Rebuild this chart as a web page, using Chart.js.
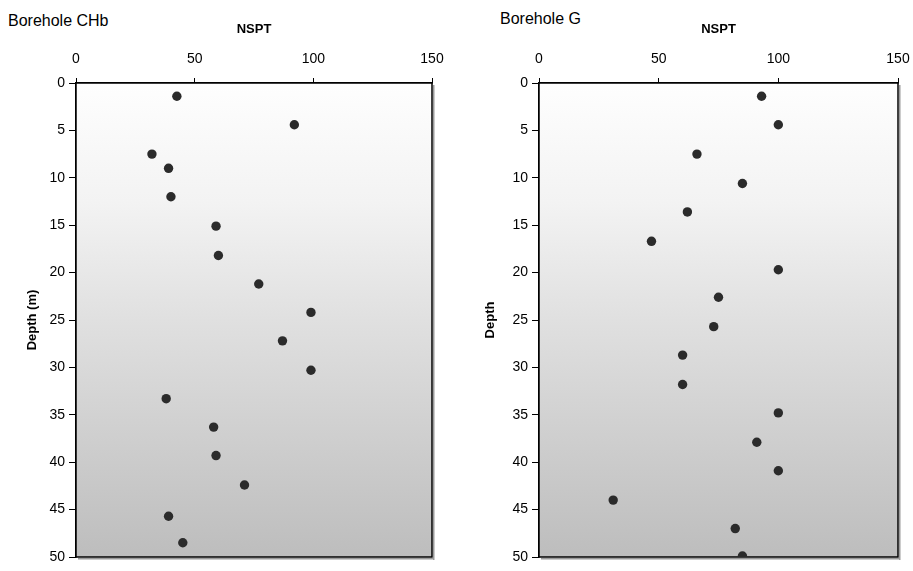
<!DOCTYPE html>
<html>
<head>
<meta charset="utf-8">
<script src="https://cdn.jsdelivr.net/npm/chart.js@4"></script>
<style>
  html, body { margin: 0; padding: 0; background: #ffffff; }
  body { width: 913px; height: 571px; position: relative; overflow: hidden; font-family: "Liberation Sans", Arial, sans-serif; }
  canvas { position: absolute; top: 0; }
  .ttl { position: absolute; font-size: 16px; color: #000; white-space: nowrap; }
</style>
</head>
<body>
<div class="ttl" id="t1" style="left:8px; top:12px;">Borehole CHb</div>
<div class="ttl" id="t2" style="left:500px; top:10px;">Borehole G</div>
<canvas id="c1" width="456" height="571" style="left:0px;"></canvas>
<canvas id="c2" width="457" height="571" style="left:456px;"></canvas>
<script>
// ---- data ----
const nsptTicks = [0, 50, 100, 150];
const depthTicks = [0, 5, 10, 15, 20, 25, 30, 35, 40, 45, 50];

const chbDepth = [1.4, 4.4, 7.5, 9.0, 12.0, 15.1, 18.2, 21.2, 24.2, 27.2, 30.3, 33.3, 36.3, 39.3, 42.4, 45.7, 48.5];
const chbNspt  = [42.5, 92, 32, 39, 40, 59, 60, 77, 99, 87, 99, 38, 58, 59, 71, 39, 45];

const gDepth = [1.4, 4.4, 7.5, 10.6, 13.6, 16.7, 19.7, 22.6, 25.7, 28.7, 31.8, 34.8, 37.9, 40.9, 44.0, 47.0, 49.9];
const gNspt  = [93, 100, 66, 85, 62, 47, 100, 75, 73, 60, 60, 100, 91, 100, 31, 82, 85];

const FONT = "'Liberation Sans', Arial, sans-serif";

const bgPlugin = {
  id: 'bg',
  beforeDatasetsDraw(chart) {
    const a = chart.chartArea, ctx = chart.ctx;
    ctx.save();
    const g = ctx.createLinearGradient(0, a.top, 0, a.bottom);
    g.addColorStop(0, '#fefefe');
    g.addColorStop(0.25, '#f3f3f3');
    g.addColorStop(0.5, '#e0e0e0');
    g.addColorStop(1, '#bdbdbd');
    ctx.fillStyle = g;
    ctx.fillRect(a.left, a.top, a.right - a.left, a.bottom - a.top);
    ctx.fillStyle = '#9a9a9a';
    ctx.fillRect(a.right + 1, a.top + 2, 1.5, a.bottom - a.top + 1);
    ctx.fillRect(a.left + 2, a.bottom + 1, a.right - a.left, 1.5);
    ctx.strokeStyle = '#000';
    ctx.lineWidth = 1.5;
    ctx.strokeRect(a.left, a.top, a.right - a.left, a.bottom - a.top);
    ctx.restore();
  }
};

function makeChart(id, xs, ys, yTitle, leftW, rightPad, yTitlePad) {
  const pts = xs.map((x, i) => ({ x: x, y: ys[i] }));
  return new Chart(document.getElementById(id), {
    type: 'scatter',
    data: { datasets: [{ data: pts, backgroundColor: '#2b2b2b', borderColor: '#2b2b2b', borderWidth: 0, pointRadius: 4.7, pointHoverRadius: 4.7 }] },
    options: {
      responsive: false,
      animation: false,
      events: [],
      layout: { padding: { left: 0, top: 0, right: rightPad, bottom: 14 } },
      plugins: { legend: { display: false }, tooltip: { enabled: false } },
      scales: {
        x: {
          type: 'linear', position: 'top', min: 0, max: 150,
          afterBuildTicks(s) { s.ticks = nsptTicks.map(v => ({ value: v })); },
          afterFit(s) { s.height = 83; s.paddingLeft = 0; s.paddingRight = 0; },
          grid: { drawOnChartArea: false, drawTicks: true, tickLength: 5, tickColor: '#000', lineWidth: 1 },
          border: { display: true, color: '#000', width: 1.5 },
          ticks: { color: '#000', font: { family: FONT, size: 14 }, padding: 10, maxRotation: 0 },
          title: { display: true, text: 'NSPT', color: '#000', font: { family: FONT, size: 13, weight: 'bold' }, padding: { top: 22, bottom: 0 } }
        },
        y: {
          type: 'linear', reverse: true, min: 0, max: 50,
          afterBuildTicks(s) { s.ticks = depthTicks.map(v => ({ value: v })); },
          afterFit(s) { s.width = leftW; s.paddingTop = 0; s.paddingBottom = 0; },
          grid: { drawOnChartArea: false, drawTicks: true, tickLength: 7, tickColor: '#000', lineWidth: 1 },
          border: { display: true, color: '#000', width: 1.5 },
          ticks: { color: '#000', font: { family: FONT, size: 14 }, padding: 4 },
          title: { display: true, text: yTitle, color: '#000', font: { family: FONT, size: 13, weight: 'bold' }, padding: { top: yTitlePad, bottom: 0 } }
        }
      }
    },
    plugins: [bgPlugin]
  });
}

makeChart('c1', chbNspt, chbDepth, 'Depth (m)', 76, 24, 25);
makeChart('c2', gNspt, gDepth, 'Depth', 83, 15, 27);
</script>
</body>
</html>
